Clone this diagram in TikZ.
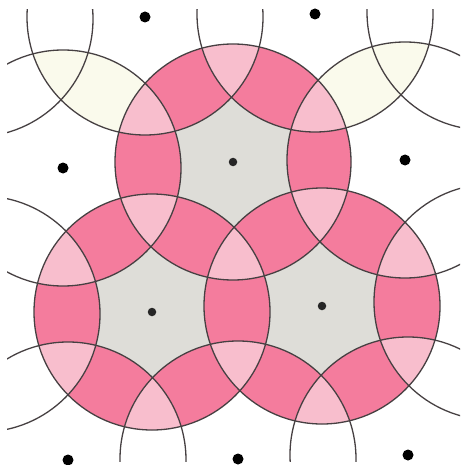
\documentclass[tikz,border=0pt]{standalone}
\usetikzlibrary{shapes.geometric}

\definecolor{rosedark}{RGB}{244,124,157}
\definecolor{roselight}{RGB}{248,190,205}
\definecolor{coregrey}{RGB}{222,221,216}
\definecolor{lenscream}{RGB}{250,250,236}
\definecolor{arcink}{RGB}{70,64,66}
\newcommand{\ringrad}{118pt}

\begin{document}
\begin{tikzpicture}[
    x=1pt, y=-1pt,
    ring/.style={draw=arcink, line width=1.3pt},
    latticedot/.style={circle, fill=black, inner sep=0pt, minimum size=11pt},
    centredot/.style={circle, fill=black!85, inner sep=0pt, minimum size=8.5pt}
]
    \useasboundingbox (0,0) rectangle (465,465);

    % Lattice points (row by row)
    \coordinate (X) at (-25,19);
    \coordinate (F) at (145,17);
    \coordinate (G) at (315,14);
    \coordinate (Y) at (485,12);
    \coordinate (D) at (63,168);
    \coordinate (A) at (233,162);
    \coordinate (E) at (405,160);
    \coordinate (W) at (-18,314);
    \coordinate (B) at (152,312);
    \coordinate (C) at (322,306);
    \coordinate (V) at (492,302);
    \coordinate (H) at (68,460);
    \coordinate (I) at (238,459);
    \coordinate (J) at (408,455);

    % Faint lenses outside the coloured discs
    \begin{scope}
        \clip (D) circle (\ringrad);
        \fill[lenscream] (F) circle (\ringrad);
    \end{scope}
    \begin{scope}
        \clip (E) circle (\ringrad);
        \fill[lenscream] (G) circle (\ringrad);
    \end{scope}

    % Disc around A
    \begin{scope}
        \clip (A) circle (\ringrad);
        \fill[coregrey] (A) circle (\ringrad);
        \foreach \q in {D,E,F,G,B,C}
            \fill[rosedark] (\q) circle (\ringrad);
        \foreach \p/\q in {F/G,G/E,E/C,C/B,B/D,D/F}{
            \begin{scope}
                \clip (\p) circle (\ringrad);
                \fill[roselight] (\q) circle (\ringrad);
            \end{scope}
        }
    \end{scope}

    % Disc around B
    \begin{scope}
        \clip (B) circle (\ringrad);
        \fill[coregrey] (B) circle (\ringrad);
        \foreach \q in {W,C,A,D,H,I}
            \fill[rosedark] (\q) circle (\ringrad);
        \foreach \p/\q in {D/A,A/C,C/I,I/H,H/W,W/D}{
            \begin{scope}
                \clip (\p) circle (\ringrad);
                \fill[roselight] (\q) circle (\ringrad);
            \end{scope}
        }
    \end{scope}

    % Disc around C
    \begin{scope}
        \clip (C) circle (\ringrad);
        \fill[coregrey] (C) circle (\ringrad);
        \foreach \q in {B,V,A,E,I,J}
            \fill[rosedark] (\q) circle (\ringrad);
        \foreach \p/\q in {A/E,E/V,V/J,J/I,I/B,B/A}{
            \begin{scope}
                \clip (\p) circle (\ringrad);
                \fill[roselight] (\q) circle (\ringrad);
            \end{scope}
        }
    \end{scope}

    % All circles, cut at the frame
    \begin{scope}
        \clip (7,10) rectangle (460,461);
        \foreach \p in {X,F,G,Y,D,A,E,W,B,C,V,H,I,J}
            \draw[ring] (\p) circle (\ringrad);
    \end{scope}

    % Dots
    \foreach \p in {F,G,D,E,H,I,J}
        \node[latticedot] (dot\p) at (\p) {};
    \foreach \p in {A,B,C}
        \node[centredot] (dot\p) at (\p) {};

\end{tikzpicture}
\end{document}
